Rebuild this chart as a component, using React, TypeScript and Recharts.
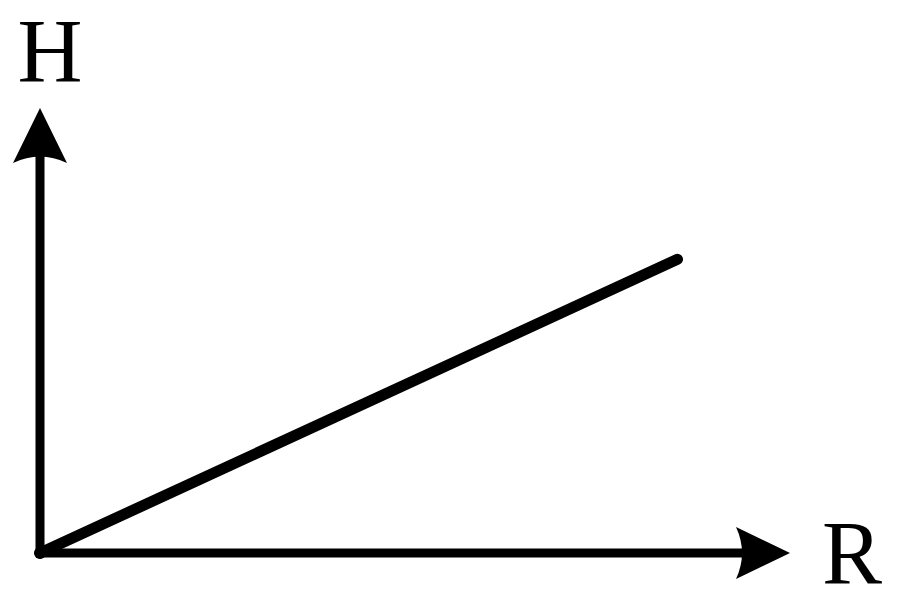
import { LineChart, Line, XAxis, YAxis, ReferenceLine, ReferenceDot } from "recharts"

const rValues = [0, 85]
const hValues = [0, 66]
const axisMax = 100
const xLabel = "R"
const yLabel = "H"

const data = rValues.map((r, i) => ({ r, h: hValues[i] }))

const labelStyle = { fontFamily: "Liberation Serif", fontSize: 90, fill: "#000" }

// arrowhead pointing up, tip at (cx, cy), with label above
const UpArrow = (props: any) => {
  const { cx, cy } = props
  const d = `M${cx},${cy} L${cx + 27},${cy + 55} Q${cx},${cy + 42} ${cx - 27},${cy + 55} Z`
  return (
    <g>
      <path d={d} fill="#000" />
      <text x={cx + 10} y={cy - 26} textAnchor="middle" style={labelStyle}>
        {yLabel}
      </text>
    </g>
  )
}

// arrowhead pointing right, tip at (cx, cy), with label to the right
const RightArrow = (props: any) => {
  const { cx, cy } = props
  const d = `M${cx},${cy} L${cx - 54},${cy + 26} Q${cx - 42},${cy} ${cx - 54},${cy - 26} Z`
  return (
    <g>
      <path d={d} fill="#000" />
      <text x={cx + 62} y={cy + 31} textAnchor="middle" style={labelStyle}>
        {xLabel}
      </text>
    </g>
  )
}

export default function App() {
  return (
    <div style={{ position: "absolute", left: 0, top: 0, width: 900, height: 604, background: "#fff" }}>
      <LineChart width={900} height={604} data={data} margin={{ top: 108, right: 110, bottom: 51, left: 40 }}>
        <XAxis type="number" dataKey="r" domain={[0, axisMax]} hide />
        <YAxis type="number" domain={[0, axisMax]} hide />
        <ReferenceLine
          segment={[{ x: 0, y: 0 }, { x: 95, y: 0 }]}
          stroke="#000"
          strokeWidth={9}
          ifOverflow="visible"
        />
        <ReferenceLine
          segment={[{ x: 0, y: 0 }, { x: 0, y: 92 }]}
          stroke="#000"
          strokeWidth={9}
          ifOverflow="visible"
        />
        <ReferenceDot x={axisMax} y={0} shape={RightArrow} ifOverflow="visible" />
        <ReferenceDot x={0} y={axisMax} shape={UpArrow} ifOverflow="visible" />
        <Line
          type="linear"
          dataKey="h"
          stroke="#000"
          strokeWidth={11}
          strokeLinecap="round"
          dot={false}
          isAnimationActive={false}
        />
        <ReferenceDot x={0} y={0} r={6} fill="#000" stroke="none" ifOverflow="visible" />
      </LineChart>
    </div>
  )
}
